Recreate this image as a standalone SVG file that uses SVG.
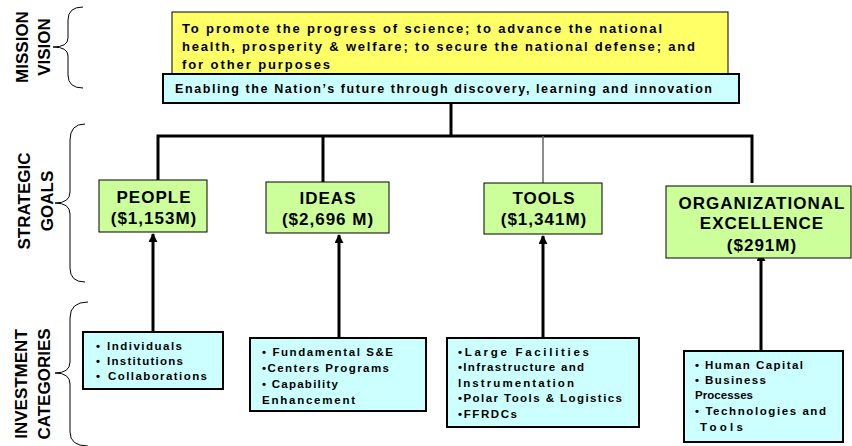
<svg xmlns="http://www.w3.org/2000/svg" width="852" height="446" viewBox="0 0 852 446">
<style>
text{font-family:"Liberation Sans",Arial,sans-serif;font-weight:bold;fill:#000}
.side{font-size:17px}
.brace{fill:none;stroke:#000;stroke-width:1}
.yel{fill:#FFFF66;stroke:#000;stroke-width:1}
.cyan{fill:#CCFFFF;stroke:#000;stroke-width:2}
.goal{fill:#CCFF99;stroke:#000;stroke-width:1}
.gt{font-size:17px;text-anchor:middle;letter-spacing:1px}
.mt{font-size:13px}
.bt{font-size:11.5px}
.line{stroke:#000;stroke-width:3;fill:none}
.arr{stroke:#000;stroke-width:3;fill:none;marker-end:url(#ah)}
</style>
<defs>
<marker id="ah" viewBox="0 0 10 10" refX="9" refY="5" markerWidth="3" markerHeight="3" orient="auto" markerUnits="strokeWidth">
<path d="M0,0 L10,5 L0,10 z" fill="#000"/>
</marker>
</defs>

<g id="labels">
<text class="side" transform="translate(28,47) rotate(-90)" text-anchor="middle">MISSION</text>
<text class="side" transform="translate(50,47) rotate(-90)" text-anchor="middle">VISION</text>
<path class="brace" d="M83 7 Q68 7 68 20 L68 38 Q68 47 53 47 Q68 47 68 56 L68 75 Q68 88 83 88"/>
<text class="side" transform="translate(30,201) rotate(-90)" text-anchor="middle">STRATEGIC</text>
<text class="side" transform="translate(53,201) rotate(-90)" text-anchor="middle">GOALS</text>
<path class="brace" d="M85 124 Q70 124 70 140 L70 192 Q70 203 55 203 Q70 203 70 214 L70 268 Q70 282 85 282"/>
<text class="side" transform="translate(27,384) rotate(-90)" text-anchor="middle">INVESTMENT</text>
<text class="side" transform="translate(50,384) rotate(-90)" text-anchor="middle">CATEGORIES</text>
<path class="brace" d="M88 302 Q70 302 70 318 L70 362 Q70 373 55 373 Q70 373 70 384 L70 432 Q70 446 88 446"/>
</g>

<g id="mission">
<rect class="yel" x="172" y="12" width="556" height="70"/>
<text class="mt" x="182" y="33" textLength="480" lengthAdjust="spacing">To promote the progress of science; to advance the national</text>
<text class="mt" x="182" y="51" textLength="513" lengthAdjust="spacing">health, prosperity &amp; welfare; to secure the national defense; and</text>
<text class="mt" x="182" y="69" textLength="148" lengthAdjust="spacing">for other purposes</text>
</g>

<g id="vision">
<rect class="cyan" x="163" y="74" width="576" height="29"/>
<text x="175" y="93" font-size="12.5" textLength="537" lengthAdjust="spacing">Enabling the Nation’s future through discovery, learning and innovation</text>
</g>

<g id="connectors">
<path class="line" d="M451 103 V136"/>
<path class="line" d="M158 180 V136 H752 V183"/>
<path class="line" d="M323 136 V182"/>
<path d="M543 136 V183" stroke="#666" stroke-width="1.5"/>
<path class="arr" d="M153 332 V234"/>
<path class="arr" d="M339 338 V235"/>
<path class="arr" d="M543 338 V236"/>
<path class="arr" d="M761 351 V253"/>
</g>

<g id="people">
<rect class="goal" x="99" y="180" width="108" height="52"/>
<text class="gt" x="154" y="203">PEOPLE</text>
<text class="gt" x="154" y="224">($1,153M)</text>
</g>
<g id="ideas">
<rect class="goal" x="266" y="182" width="123" height="51"/>
<text class="gt" x="328" y="204">IDEAS</text>
<text class="gt" x="328" y="225">($2,696 M)</text>
</g>
<g id="tools">
<rect class="goal" x="484" y="183" width="118" height="51"/>
<text class="gt" x="544" y="204">TOOLS</text>
<text class="gt" x="544" y="225">($1,341M)</text>
</g>
<g id="org">
<rect class="goal" x="666" y="186" width="185" height="72"/>
<text class="gt" x="762" y="209" textLength="167" lengthAdjust="spacing">ORGANIZATIONAL</text>
<text class="gt" x="762" y="229">EXCELLENCE</text>
<text class="gt" x="762" y="251">($291M)</text>
</g>

<g id="inv-people">
<rect class="cyan" x="83" y="332" width="140" height="57"/>
<text class="bt" x="96" y="350">•</text><text class="bt" x="107" y="350" textLength="75" lengthAdjust="spacing">Individuals</text>
<text class="bt" x="96" y="365">•</text><text class="bt" x="107" y="365" textLength="76" lengthAdjust="spacing">Institutions</text>
<text class="bt" x="96" y="380">•</text><text class="bt" x="108" y="380" textLength="99" lengthAdjust="spacing">Collaborations</text>
</g>
<g id="inv-ideas">
<rect class="cyan" x="250" y="338" width="176" height="73"/>
<text class="bt" x="262" y="356" textLength="131" lengthAdjust="spacing">• Fundamental S&amp;E</text>
<text class="bt" x="262" y="372" textLength="127" lengthAdjust="spacing">•Centers Programs</text>
<text class="bt" x="262" y="388" textLength="76" lengthAdjust="spacing">• Capability</text>
<text class="bt" x="262" y="404" textLength="93" lengthAdjust="spacing">Enhancement</text>
</g>
<g id="inv-tools">
<rect class="cyan" x="447" y="338" width="192" height="89"/>
<text class="bt" x="458" y="356" textLength="131" lengthAdjust="spacing">•Large Facilities</text>
<text class="bt" x="458" y="371" textLength="126" lengthAdjust="spacing">•Infrastructure and</text>
<text class="bt" x="458" y="387" textLength="116" lengthAdjust="spacing">Instrumentation</text>
<text class="bt" x="458" y="402" textLength="164" lengthAdjust="spacing">•Polar Tools &amp; Logistics</text>
<text class="bt" x="458" y="418" textLength="59" lengthAdjust="spacing">•FFRDCs</text>
</g>
<g id="inv-org">
<rect class="cyan" x="684" y="351" width="159" height="91"/>
<text class="bt" x="695" y="369" textLength="108" lengthAdjust="spacing">• Human Capital</text>
<text class="bt" x="695" y="384" textLength="71" lengthAdjust="spacing">• Business</text>
<text class="bt" x="695" y="399" textLength="58" lengthAdjust="spacing">Processes</text>
<text class="bt" x="695" y="415" textLength="131" lengthAdjust="spacing">• Technologies and</text>
<text class="bt" x="700" y="431" textLength="43" lengthAdjust="spacing">Tools</text>
</g>
</svg>
